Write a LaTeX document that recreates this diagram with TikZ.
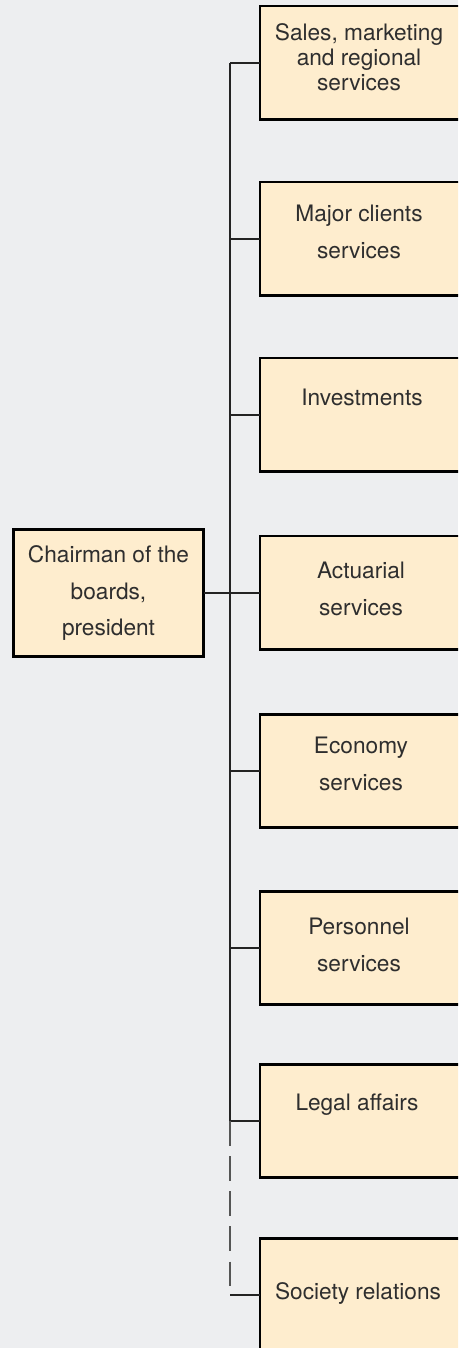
\documentclass[tikz,border=0pt]{standalone}
\usepackage{fontspec}
\setmainfont{TeX Gyre Heros}

\definecolor{pagebg}{RGB}{237,238,240}
\definecolor{boxfill}{RGB}{254,237,206}
\definecolor{linkgray}{RGB}{35,35,35}
\definecolor{dashgray}{RGB}{85,85,85}

\tikzset{
  unit/.style={draw=black, line width=1.7pt, fill=boxfill, inner sep=0pt, outer sep=0pt},
  dept/.style={unit, anchor=north west, minimum width=4.4cm, minimum height=2.28cm},
  deptlabel/.style={align=center, text=black!82, font=\fontsize{12.9}{21}\selectfont},
  link/.style={draw=linkgray, line width=0.75pt},
}

\begin{document}
\begin{tikzpicture}[x=0.02cm, y=-0.02cm]
  \path[use as bounding box] (0,0) rectangle (458,1348);
  \fill[pagebg] (0,0) rectangle (458,1348);
  \clip (0,0) rectangle (458,1348);

  % head
  \node[unit, minimum width=3.82cm, minimum height=2.54cm, align=center,
        text=black!82, font=\fontsize{12.9}{21}\selectfont]
        (chair) at (108.5,593) {Chairman of the\\boards,\\president};

  % departments, boxes run off the right edge
  \node[dept] (d1) at (260,6) {};
  \node[dept] (d2) at (260,182) {};
  \node[dept] (d3) at (260,358) {};
  \node[dept] (d4) at (260,536) {};
  \node[dept] (d5) at (260,714) {};
  \node[dept] (d6) at (260,891) {};
  \node[dept] (d7) at (260,1064) {};
  \node[dept] (d8) at (260,1238) {};

  \node[deptlabel, font=\fontsize{12.9}{14.2}\selectfont] (l1) at (359,57) {Sales, marketing\\and regional\\services};
  \node[deptlabel] (l2) at (359,231.5) {Major clients\\services};
  \node[deptlabel] (l3) at (362,397) {Investments};
  \node[deptlabel] (l4) at (361,588.5) {Actuarial\\services};
  \node[deptlabel] (l5) at (361,763.5) {Economy\\services};
  \node[deptlabel] (l6) at (359,945) {Personnel\\services};
  \node[deptlabel] (l7) at (357,1105) {Legal affairs};
  \node[deptlabel] (l8) at (358,1293) {Society relations};

  % trunk and branches
  \draw[link] (d1.west) -- ++(-30,0) coordinate (t1);
  \draw[link] (t1) -- (t1 |- d7.west);
  \draw[link] (d2.west) -- (t1 |- d2.west);
  \draw[link] (d3.west) -- (t1 |- d3.west);
  \draw[link] (d4.west) -- (t1 |- d4.west);
  \draw[link] (d5.west) -- (t1 |- d5.west);
  \draw[link] (d6.west) -- (t1 |- d6.west);
  \draw[link] (d7.west) -- (t1 |- d7.west);
  \draw[link, draw=dashgray, dash pattern=on 14pt off 6pt] (t1 |- d7.west) -- (t1 |- d8.west);
  \draw[link] (t1 |- d8.west) -- (d8.west);
  \draw[link] (chair.east) -- (chair.east -| d4.west);
\end{tikzpicture}
\end{document}
